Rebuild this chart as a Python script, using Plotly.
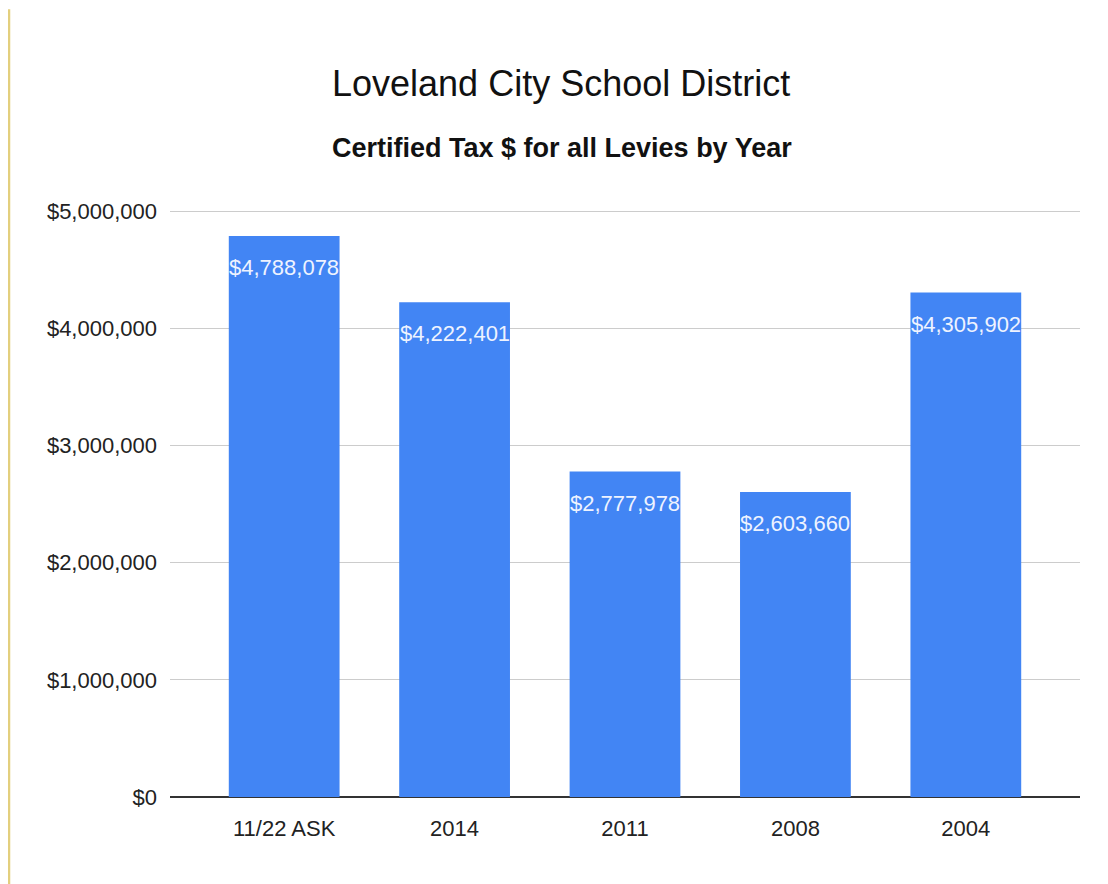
import plotly.graph_objects as go

categories = ["11/22 ASK", "2014", "2011", "2008", "2004"]
values = [4788078, 4222401, 2777978, 2603660, 4305902]
tick_vals = [0, 1000000, 2000000, 3000000, 4000000, 5000000]
tick_text = ["$0", "$1,000,000", "$2,000,000", "$3,000,000", "$4,000,000", "$5,000,000"]
labels = ["${:,}".format(v) for v in values]

W, H = 1108, 884
OFF = 8  # page body margin
YMAX = 5010000
# desired screen positions of plot area
sx0, sx1, sy_top5m, sy0 = 170, 1080, 211, 797
L = sx0 - OFF
R = W - (sx1 - OFF)
B = H - (sy0 - OFF)
ph = (sy0 - sy_top5m) * YMAX / 5000000
T = H - B - ph
pw = W - L - R


def px(sx):
    return (sx - OFF - L) / pw


def py(sy):
    return (H - B - (sy - OFF)) / ph


FONT = "Liberation Sans, Arial"

annotations = []
for i, (v, t) in enumerate(zip(values, labels)):
    annotations.append(dict(x=i, y=v, xref="x", yref="y", text=t, showarrow=False,
                            yanchor="top", yshift=-17,
                            font=dict(family=FONT, size=22, color="#eef3ff")))
annotations.append(dict(text="Loveland City School District", xref="paper", yref="paper",
                        x=px(561), y=py(83), showarrow=False,
                        xanchor="center", yanchor="middle",
                        font=dict(family=FONT, size=36, color="#111111")))
annotations.append(dict(text="<b>Certified Tax $ for all Levies by Year</b>", xref="paper", yref="paper",
                        x=px(562), y=py(148), showarrow=False,
                        xanchor="center", yanchor="middle",
                        font=dict(family=FONT, size=27, color="#111111")))

fig = go.Figure()
fig.add_trace(go.Bar(
    x=list(range(len(categories))), y=values,
    marker=dict(color="#4285F4", line=dict(width=0)),
    width=0.65,
    hoverinfo="skip",
))

fig.add_shape(type="line", xref="paper", yref="paper",
              x0=px(9), x1=px(9), y0=py(9), y1=py(884),
              line=dict(color="#e3cf7e", width=2.5))

fig.update_layout(
    width=W, height=H,
    margin=dict(l=L, r=R, t=T, b=B, autoexpand=False),
    paper_bgcolor="#ffffff", plot_bgcolor="#ffffff",
    showlegend=False,
    font=dict(family=FONT, color="#222222"),
    annotations=annotations,
)

fig.update_xaxes(range=[-0.67, 4.67], tickvals=list(range(len(categories))), ticktext=categories,
                 showgrid=False, ticks="", showline=False, automargin=False,
                 tickfont=dict(size=22, color="#222222"), ticklabelstandoff=16, fixedrange=True)
fig.update_yaxes(range=[0, YMAX], tickvals=tick_vals, ticktext=tick_text,
                 showgrid=True, gridcolor="#cccccc", gridwidth=1, automargin=False,
                 zeroline=True, zerolinecolor="#333333", zerolinewidth=2,
                 tickfont=dict(size=22, color="#222222"), ticks="", ticklabelstandoff=12,
                 showline=False, fixedrange=True)

fig.write_html("out.html")
